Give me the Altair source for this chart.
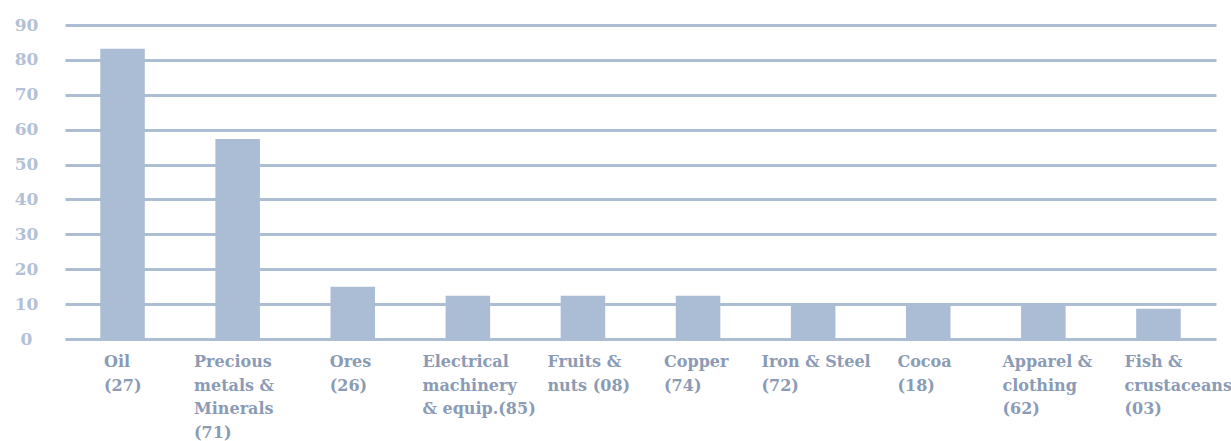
import altair as alt
import pandas as pd

# Product groups (HS chapter in brackets) and their share values
categories = [
    "Oil\n(27)",
    "Precious\nmetals &\nMinerals\n(71)",
    "Ores\n(26)",
    "Electrical\nmachinery\n& equip.(85)",
    "Fruits &\nnuts (08)",
    "Copper\n(74)",
    "Iron & Steel\n(72)",
    "Cocoa\n(18)",
    "Apparel &\nclothing\n(62)",
    "Fish &\ncrustaceans\n(03)",
]
values = [83.2, 57.3, 15.0, 12.4, 12.4, 12.4, 10.2, 10.2, 10.2, 8.7]
y_ticks = [0, 10, 20, 30, 40, 50, 60, 70, 80, 90]

df = pd.DataFrame({"cat": categories, "value": values})

BAR = "#abbdd4"
GRID = "#adbed4"
XLAB = "#8b9bb5"
YLAB = "#b2c1d6"
FONT = "DejaVu Serif"

# horizontal nudge of each category caption from its band centre (px)
caption_shift = [-18.5, -43.6, -23, -45.4, -35.5, -34, -51.7, -30.8, -40.9, -34]

x_enc = alt.X(
    "cat:N",
    sort=None,
    scale=alt.Scale(domain=categories, range=[0, 1151], paddingInner=0.613, paddingOuter=0.3065),
    axis=None,
)

bars = alt.Chart(df).mark_bar(color=BAR).encode(
    x=x_enc,
    y=alt.Y(
        "value:Q",
        scale=alt.Scale(domain=[0, 90], nice=False),
        axis=alt.Axis(
            values=y_ticks,
            title=None,
            domain=False,
            ticks=False,
            tickSize=0,
            grid=True,
            gridColor=GRID,
            gridWidth=3,
            labelAlign="center",
            labelBaseline="middle",
            labelPadding=39,
            labelFont=FONT,
            labelFontWeight="bold",
            labelFontSize=17,
            labelColor=YLAB,
        ),
    ),
)

captions = []
for name, shift in zip(categories, caption_shift):
    captions.append(
        alt.Chart(df)
        .transform_filter(alt.datum.cat == name)
        .transform_calculate(lines="split(datum.cat, '\\n')")
        .mark_text(
            align="left",
            baseline="alphabetic",
            dx=shift,
            lineHeight=23.7,
            font=FONT,
            fontWeight="bold",
            fontSize=16,
            color=XLAB,
        )
        .encode(x=x_enc, y=alt.value(342), text="lines:N")
    )

chart = (
    alt.layer(bars, *captions)
    .properties(
        width=1158,
        height=314,
        autosize=alt.AutoSizeParams(type="none"),
        padding={"left": 65, "top": 25, "right": 8, "bottom": 102},
        background="white",
    )
    .configure_view(stroke=None)
)

chart.save("out.html", embed_options={"renderer": "svg", "actions": False})
